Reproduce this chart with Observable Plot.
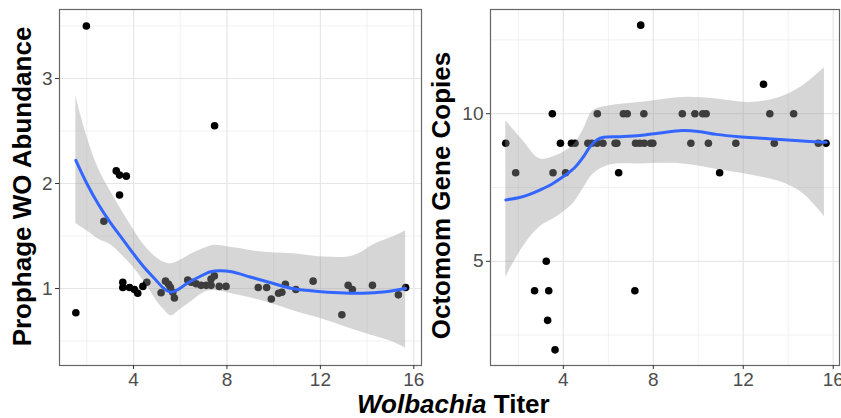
<!DOCTYPE html>
<html><head><meta charset="utf-8">
<script src="https://cdn.jsdelivr.net/npm/d3@7"></script>
<script src="https://cdn.jsdelivr.net/npm/@observablehq/plot@0.6"></script>
<style>
body{margin:0;background:#fff;font-family:"Liberation Sans",Arial,sans-serif;}
#row{display:flex;width:841px;}
#xt{font-weight:bold;font-size:26px;margin-left:357px;line-height:28px;height:28px;white-space:nowrap;color:#000;}
svg{overflow:visible;}
</style></head><body>
<div id="row"></div>
<div id="xt"><i>Wolbachia</i> Titer</div>
<script>
// ---- Left panel: Prophage WO abundance ----
const leftX = [1.53,1.98,2.73,3.26,3.40,3.69,3.40,7.47,
  3.54,3.54,3.83,4.04,4.18,4.40,4.57,
  5.18,5.37,5.50,5.58,5.68,5.75,
  6.32,6.47,6.68,6.89,7.11,7.32,7.46,7.32,7.67,7.96,
  9.34,9.70,9.90,10.21,10.35,10.50,10.95,11.69,12.92,13.19,13.37,14.23,15.34,15.65];
const leftY = [0.77,3.50,1.64,2.12,2.08,2.07,1.89,2.55,
  1.06,1.01,1.01,0.99,0.955,1.02,1.06,
  0.96,1.07,1.04,1.01,0.965,0.91,
  1.08,1.06,1.045,1.03,1.03,1.09,1.12,1.03,1.02,1.02,
  1.01,1.01,0.90,0.955,0.965,1.04,0.99,1.07,0.75,1.03,0.99,1.03,0.94,1.01];
// smooth curve and its confidence band
const leftFitX = [1.53,2.0,2.5,3.0,3.5,4.0,4.5,5.0,5.3,5.6,5.9,6.3,6.8,7.3,7.7,8.2,9.0,9.8,10.8,11.8,12.8,13.8,14.8,15.65];
const leftFitY = [2.22,2.0,1.8,1.63,1.48,1.33,1.19,1.07,1.0,0.965,0.99,1.05,1.11,1.16,1.17,1.16,1.11,1.06,1.0,0.975,0.96,0.955,0.97,1.0];
const leftBandX = [1.53,2.0,2.5,3.0,3.5,4.0,4.5,5.0,5.3,5.6,6.0,6.5,7.0,7.4,8.2,9.4,10.8,12.2,13.4,14.4,15.1,15.65];
const leftBandLo = [1.62,1.55,1.47,1.42,1.32,1.20,1.05,0.88,0.80,0.74,0.80,0.88,0.96,0.98,0.95,0.89,0.79,0.70,0.61,0.54,0.49,0.43];
const leftBandHi = [2.83,2.45,2.14,1.93,1.74,1.56,1.40,1.29,1.25,1.235,1.27,1.33,1.38,1.41,1.39,1.35,1.33,1.30,1.31,1.43,1.49,1.55];
const leftXTicks = [4,8,12,16];
const leftXMinor = [2,6,10,14];
const leftYTicks = [1,2,3];
const leftYMinor = [0.5,1.5,2.5,3.5];

// ---- Right panel: Octomom gene copies ----
const rightX = [3.51,5.51,6.67,6.84,7.58,9.29,9.85,10.20,10.35,13.18,14.24,
  1.44,3.87,4.36,4.52,5.09,5.27,5.50,5.76,6.30,6.38,7.21,7.40,7.60,7.88,7.98,9.67,10.45,11.67,13.38,15.34,15.68,
  1.88,3.54,4.10,6.46,10.95,
  12.90,7.44,3.24,2.72,3.35,7.18,3.30,3.63];
const rightY = [10,10,10,10,10,10,10,10,10,10,10,
  9,9,9,9,9,9,9,9,9,9,9,9,9,9,9,9,9,9,9,9,9,
  8,8,8,8,8,
  11,13,5,4,4,4,3,2];
const rightFitX = [1.44,2.0,2.5,3.0,3.5,4.0,4.5,4.9,5.2,5.5,5.8,6.5,7.4,8.3,9.3,10.0,10.8,11.8,12.8,13.8,14.8,15.69];
const rightFitY = [7.08,7.15,7.27,7.43,7.62,7.87,8.17,8.55,8.90,9.12,9.20,9.22,9.26,9.35,9.43,9.40,9.30,9.22,9.17,9.12,9.07,9.03];
const rightBandX = [1.44,2.2,2.95,3.69,4.43,4.87,5.32,6.06,7.39,9.32,10.8,12.28,13.61,14.65,15.61];
const rightBandLo = [4.45,5.48,6.16,6.50,6.95,7.45,7.95,8.26,8.30,8.30,8.12,7.93,7.70,7.30,6.52];
const rightBandHi = [9.76,9.09,8.47,8.58,8.92,9.43,10.10,10.27,10.38,10.55,10.50,10.38,10.55,10.95,11.56];
const rightXTicks = [4,8,12,16];
const rightXMinor = [2,6,10,14];
const rightYTicks = [5,10];
const rightYMinor = [2.5,7.5,12.5];

const FONT = "'Liberation Sans', Arial, sans-serif";
const H = 390;

function panel({width, marginLeft, marginRight, xDomain, yDomain, pts, fit, band,
                xTicks, xMinor, yTicks, yMinor, title, titleDx, titleDy, bg}) {
  return Plot.plot({
    width, height: H, marginTop: 9, marginBottom: 25, marginLeft, marginRight,
    style: {fontFamily: FONT, background: bg, overflow: "visible"},
    x: {domain: xDomain},
    y: {domain: yDomain},
    marks: [
      Plot.gridX(xMinor, {stroke: "#ebebeb", strokeOpacity: 1, strokeWidth: 0.7}),
      Plot.gridY(yMinor, {stroke: "#ebebeb", strokeOpacity: 1, strokeWidth: 0.7}),
      Plot.gridX(xTicks, {stroke: "#e6e6e6", strokeOpacity: 1, strokeWidth: 1.2}),
      Plot.gridY(yTicks, {stroke: "#e6e6e6", strokeOpacity: 1, strokeWidth: 1.2}),
      Plot.dot(pts, {x: "x", y: "y", r: 3.8, fill: "black", stroke: "none"}),
      Plot.areaY(band, {x: "x", y1: "lo", y2: "hi", curve: "catmull-rom", fill: "#999999", fillOpacity: 0.4}),
      Plot.line(fit, {x: "x", y: "y", curve: "catmull-rom", stroke: "#3366FF", strokeWidth: 3}),
      Plot.frame({stroke: "#666", strokeWidth: 1.2}),
      Plot.axisX(xTicks, {tickSize: 4, tickPadding: 3, fontSize: 19, fill: "#4d4d4d", stroke: "#333", label: null, tickFormat: d3.format("d")}),
      Plot.axisY(yTicks, {tickSize: 4, tickPadding: 3, fontSize: 19, fill: "#4d4d4d", stroke: "#333", label: null, tickFormat: d3.format("d")}),
      Plot.text([title], {text: d => d, frameAnchor: "left", rotate: -90, dx: titleDx, dy: titleDy,
        fontSize: 26, fontWeight: "bold", fill: "black", textAnchor: "middle"})
    ]
  });
}

const tbl = (xs, ys) => xs.map((x, i) => ({x, y: ys[i]}));
const btbl = (xs, lo, hi) => xs.map((x, i) => ({x, lo: lo[i], hi: hi[i]}));

const left = panel({
  width: 421, marginLeft: 59, marginRight: 0,
  xDomain: [0.83, 16.33], yDomain: [0.267, 3.657],
  pts: tbl(leftX, leftY), fit: tbl(leftFitX, leftFitY), band: btbl(leftBandX, leftBandLo, leftBandHi),
  xTicks: leftXTicks, xMinor: leftXMinor, yTicks: leftYTicks, yMinor: leftYMinor,
  title: "Prophage WO Abundance", titleDx: -37, titleDy: -1, bg: "white"
});
const right = panel({
  width: 420, marginLeft: 69, marginRight: 2,
  xDomain: [0.76, 16.28], yDomain: [1.47, 13.53],
  pts: tbl(rightX, rightY), fit: tbl(rightFitX, rightFitY), band: btbl(rightBandX, rightBandLo, rightBandHi),
  xTicks: rightXTicks, xMinor: rightXMinor, yTicks: rightYTicks, yMinor: rightYMinor,
  title: "Octomom Gene Copies", titleDx: -49, titleDy: 8, bg: "transparent"
});
const row = document.getElementById("row");
row.appendChild(left);
row.appendChild(right);
</script>
</body></html>
